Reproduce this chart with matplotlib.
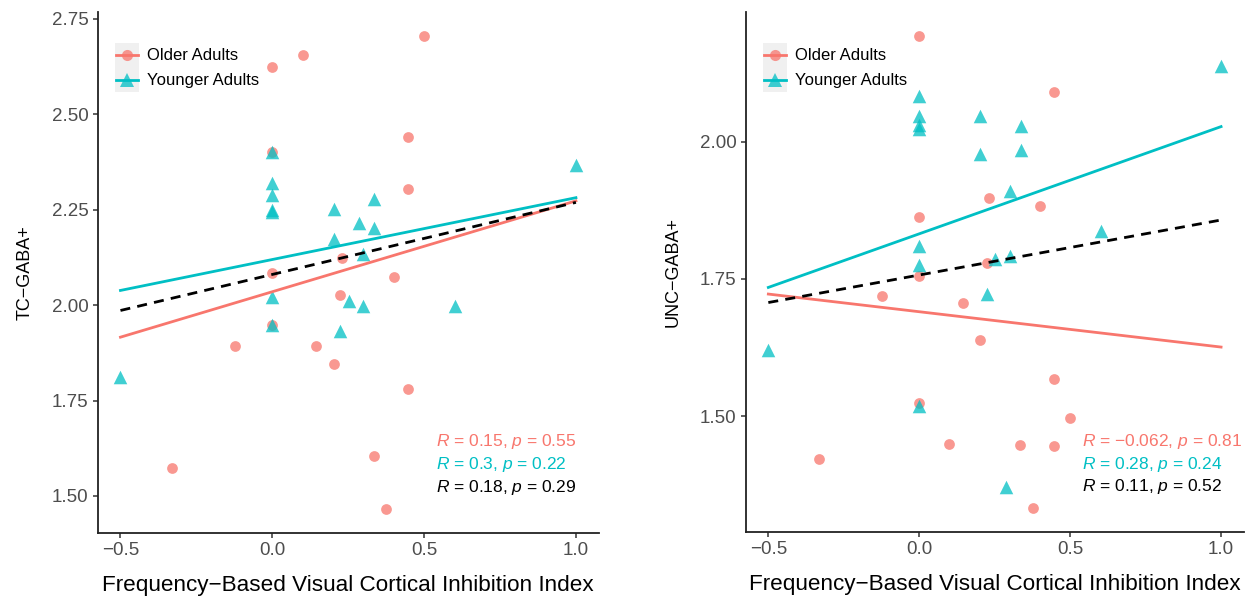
import matplotlib.pyplot as plt
import numpy as np
from matplotlib.patches import Rectangle
from matplotlib.lines import Line2D

plt.rcParams['font.family'] = ['Liberation Sans', 'DejaVu Sans']
plt.rcParams['mathtext.fontset'] = 'custom'
plt.rcParams['mathtext.rm'] = 'Liberation Sans'
plt.rcParams['mathtext.it'] = 'Liberation Sans:italic'

# inhibition index per participant (same subjects in both panels)
older_x = [0.0, 0.10, 0.0, 0.50, 0.446, 0.446, 0.0, 0.231, 0.224,
           0.0, -0.124, 0.144, 0.202, 0.401, 0.446, -0.331, 0.334, 0.376]
older_tc = [2.625, 2.655, 2.401, 2.706, 2.440, 2.304, 2.085, 2.123, 2.026,
            1.947, 1.894, 1.894, 1.846, 2.074, 1.779, 1.572, 1.604, 1.465]
older_unc = [1.755, 1.449, 2.193, 1.496, 2.090, 1.446, 1.523, 1.897, 1.779,
             1.863, 1.718, 1.706, 1.638, 1.883, 1.567, 1.422, 1.447, 1.332]

younger_x = [0.0, 0.0, 0.0, 0.0, 0.0, 0.0, 0.0, 0.202, 0.202, 0.287,
             0.30, 0.30, 0.336, 0.336, 0.251, 0.224, -0.5, 0.602, 1.0]
younger_tc = [2.401, 2.320, 2.288, 2.250, 2.244, 2.021, 1.947, 2.253, 2.172, 2.214,
              2.134, 1.999, 2.277, 2.203, 2.012, 1.931, 1.813, 1.999, 2.366]
younger_unc = [2.083, 2.047, 2.030, 2.023, 1.810, 1.775, 1.518, 2.047, 1.978, 1.370,
               1.910, 1.791, 2.029, 1.984, 1.787, 1.722, 1.620, 1.838, 2.138]

stats_tc = ['$\\it{R}$ = 0.15, $\\it{p}$ = 0.55',
            '$\\it{R}$ = 0.3, $\\it{p}$ = 0.22',
            '$\\it{R}$ = 0.18, $\\it{p}$ = 0.29']
stats_unc = ['$\\it{R}$ = \u22120.062, $\\it{p}$ = 0.81',
             '$\\it{R}$ = 0.28, $\\it{p}$ = 0.24',
             '$\\it{R}$ = 0.11, $\\it{p}$ = 0.52']

RED = '#F8766D'
CYAN = '#00BFC4'

W, H = 1251, 598
fig = plt.figure(figsize=(W / 100, H / 100), dpi=100)
ax1 = fig.add_axes([97.7 / W, (H - 533) / H, 501 / W, 521 / H])
ax2 = fig.add_axes([745.7 / W, (H - 532) / H, 498 / W, 520 / H])


def fit_line(ax, x, y, xr, **kw):
    b, a = np.polyfit(x, y, 1)
    xs = np.array(xr)
    ax.plot(xs, a + b * xs, **kw)


def draw_legend(ax, w_px, h_px):
    # grey key background, offsets in pixels from the axes' top-left
    x0, x1 = 17.5 / w_px, 41.5 / w_px
    y0, y1 = 1 - 80 / h_px, 1 - 31 / h_px
    ax.add_patch(Rectangle((x0, y0), x1 - x0, y1 - y0, transform=ax.transAxes,
                           facecolor='#F0F0F0', edgecolor='none', zorder=5))
    xc = (x0 + x1) / 2
    for dy, col, mk, ms, lab in [(43, RED, 'o', 8, 'Older Adults'),
                                 (68, CYAN, '^', 10, 'Younger Adults')]:
        yc = 1 - dy / h_px
        ax.add_line(Line2D([x0 + 0.002, x1 - 0.002], [yc, yc], transform=ax.transAxes,
                           color=col, lw=2.0, zorder=6))
        ax.add_line(Line2D([xc], [yc], transform=ax.transAxes, marker=mk,
                           markersize=ms, color=col, alpha=0.75, lw=0,
                           markeredgewidth=0, zorder=7))
        ax.text(49 / w_px, yc, lab, transform=ax.transAxes, fontsize=12,
                va='center', ha='left', color='black', zorder=7)


panels = [(ax1, older_tc, younger_tc, 'TC\u2212GABA+', stats_tc,
           [1.644, 1.583, 1.523], 501, 521),
          (ax2, older_unc, younger_unc, 'UNC\u2212GABA+', stats_unc,
           [1.4545, 1.412, 1.371], 498, 520)]

for ax, oy, yy, ylab, stats, sy, wpx, hpx in panels:
    ax.scatter(older_x, oy, s=60, marker='o', color=RED, alpha=0.75,
               linewidths=0, zorder=2)
    ax.scatter(younger_x, yy, s=95, marker='^', color=CYAN, alpha=0.75,
               linewidths=0, zorder=2)

    all_x = older_x + younger_x
    xr = [min(all_x), max(all_x)]
    fit_line(ax, older_x, oy, xr, color=RED, lw=2.0, zorder=3)
    fit_line(ax, younger_x, yy, xr, color=CYAN, lw=2.0, zorder=3)
    fit_line(ax, all_x, oy + yy, xr, color='black', lw=2.0,
             linestyle=(0, (3.6, 2.6)), zorder=4)

    for txt, yv, col in zip(stats, sy, [RED, CYAN, 'black']):
        ax.text(0.54, yv, txt, color=col, fontsize=12.5, ha='left', va='center')

    ax.margins(x=0.05, y=0.05)
    ax.set_xticks([-0.5, 0.0, 0.5, 1.0])
    ax.set_xticklabels(['\u22120.5', '0.0', '0.5', '1.0'])
    ax.set_yticks([1.50, 1.75, 2.00, 2.25, 2.50, 2.75] if ax is ax1 else [1.50, 1.75, 2.00])
    ax.yaxis.set_major_formatter(plt.FormatStrFormatter('%.2f'))

    for side in ['top', 'right']:
        ax.spines[side].set_visible(False)
    for side in ['left', 'bottom']:
        ax.spines[side].set_linewidth(1.3)
        ax.spines[side].set_color('#222222')
    ax.tick_params(axis='both', length=3.5, width=1.1, color='#333333',
                   labelsize=13.5, labelcolor='#4D4D4D', pad=3)

    ax.set_xlabel('Frequency\u2212Based Visual Cortical Inhibition Index', fontsize=16.2)
    ax.set_ylabel(ylab, fontsize=13)
    ax.yaxis.label.set_va('center')
    ax.xaxis.set_label_coords(0.5, -0.08)
    ax.yaxis.set_label_coords(-72.7 / wpx, 0.5)

    draw_legend(ax, wpx, hpx)

fig.savefig('out.png', dpi=100)
